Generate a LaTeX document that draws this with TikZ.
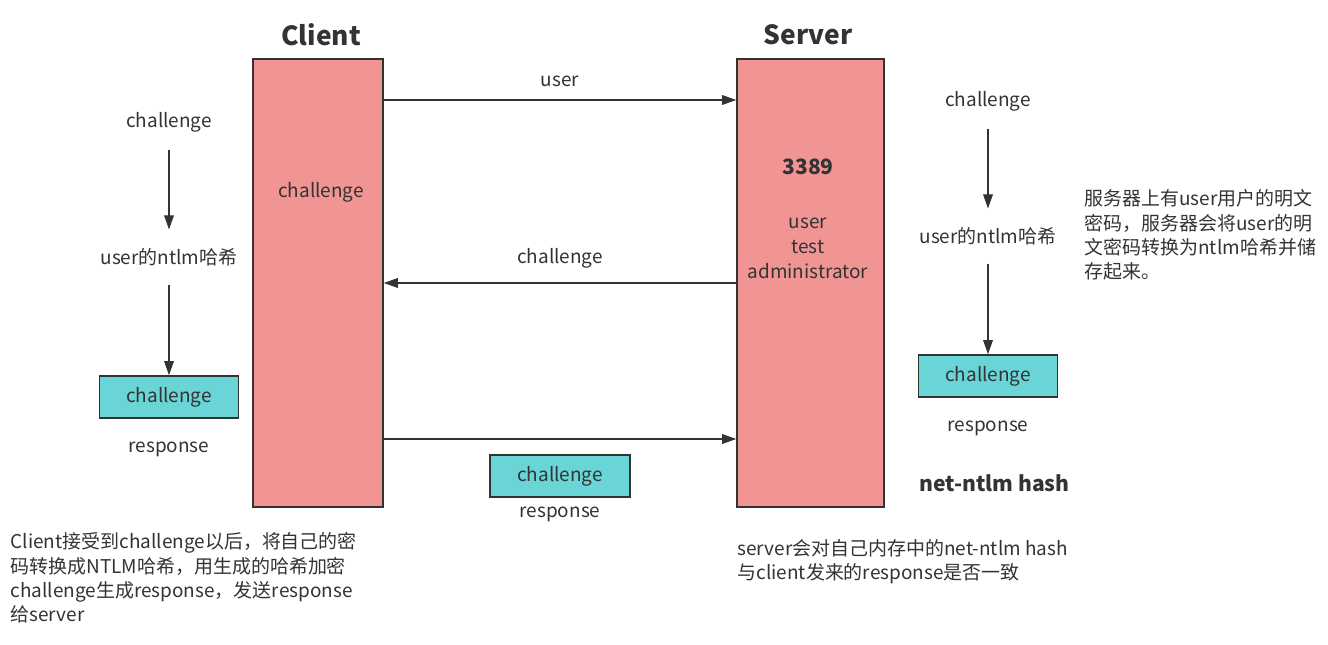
\documentclass[tikz,border=0pt]{standalone}
\usepackage{fontspec}
\setmainfont{Noto Sans CJK SC}
\usetikzlibrary{positioning,arrows.meta}
\definecolor{ink}{HTML}{333333}
\definecolor{pinkbar}{HTML}{F19594}
\definecolor{tealbox}{HTML}{6AD5D6}

\begin{document}
\begin{tikzpicture}[x=0.02cm, y=-0.02cm, line width=0.6pt, draw=ink,
    every node/.style={font=\fontsize{10.8}{13.9}\selectfont, text=ink},
    title/.style={font=\fontsize{15}{18}\selectfont\bfseries},
    bold/.style={font=\fontsize{12}{14}\selectfont\bfseries},
    bar/.style={draw=ink, fill=pinkbar, line width=0.9pt, minimum height=8.96cm, inner sep=0},
    tbox/.style={draw=ink, fill=tealbox, line width=0.9pt, minimum width=2.78cm, minimum height=0.84cm, inner sep=0},
    lbl/.style={inner sep=0, minimum height=1.08cm},
    note/.style={inner sep=0, align=left, anchor=north west},
    arr/.style={-{Triangle[length=8pt,width=5.5pt]}, draw=ink}]

    \useasboundingbox (0,0) rectangle (1328,645);

    % the two sides
    \node[title] (tclient) at (321,35) {Client};
    \node[title] (tserver) at (808,35) {Server};
    \node[bar, minimum width=2.6cm] (client) at (318,283) {};
    \node[bar, minimum width=2.94cm] (server) at (810.5,283) {};

    \node (cchal) at (321,192) {challenge};
    \node[bold] (port) at (808,167) {3389};
    \node[align=center, font=\fontsize{10.8}{14.2}\selectfont] (users) at (808,248) {user\\test\\administrator};

    % messages
    \node (muser) at (560,81) {user};
    \node (mchal) at (560,258) {challenge};
    \draw[arr] (client.east |- 0,100) -- (server.west |- 0,100);
    \draw[arr] (server.west |- 0,283) -- (client.east |- 0,283);
    \draw[arr] (client.east |- 0,439) -- (server.west |- 0,439);
    \node[tbox, minimum width=2.8cm] (mbox) at (560,476) {challenge};
    \node (mresp) at (560,514) {response};

    % client side steps
    \node[lbl] (lc1) at (169,122) {challenge};
    \node[lbl] (lh1) at (169,257) {user的ntlm哈希};
    \node[tbox] (lbox) at (169,397) {challenge};
    \node (lresp) at (169,449) {response};
    \draw[arr] (lc1) -- (lh1);
    \draw[arr] (lh1) -- (lbox);

    % server side steps
    \node[lbl] (rc1) at (988,101) {challenge};
    \node[lbl] (rh1) at (988,236) {user的ntlm哈希};
    \node[tbox] (rbox) at (988,376) {challenge};
    \node (rresp) at (988,428) {response};
    \draw[arr] (rc1) -- (rh1);
    \draw[arr] (rh1) -- (rbox);
    \node[bold, anchor=west, inner sep=0] (nethash) at (919,483) {net-ntlm hash};

    % notes
    \node[note] (snote) at (1084,189) {服务器上有user用户的明文\\密码，服务器会将user的明\\文密码转换为ntlm哈希并储\\存起来。};
    \node[note] (cnote) at (10,532) {Client接受到challenge以后，将自己的密\\码转换成NTLM哈希，用生成的哈希加密\\challenge生成response，发送response\\给server};
    \node[note] (mnote) at (737,539) {server会对自己内存中的net-ntlm hash\\与client发来的response是否一致};

\end{tikzpicture}
\end{document}
